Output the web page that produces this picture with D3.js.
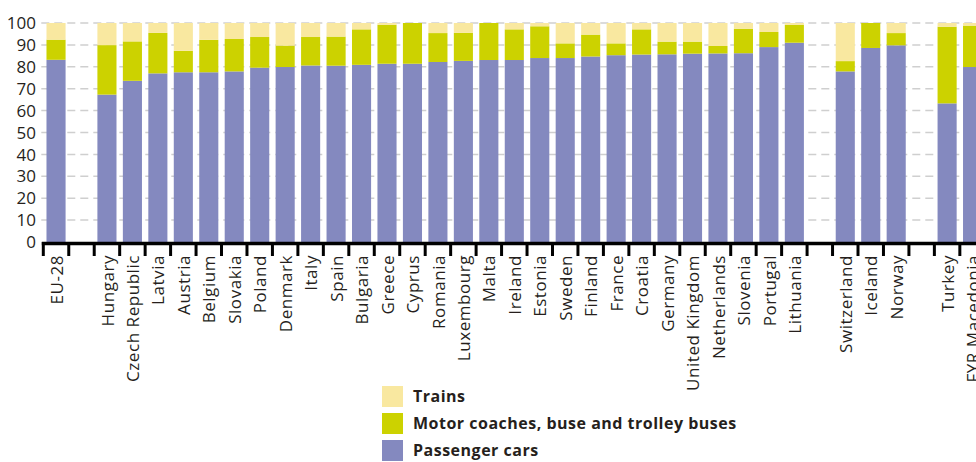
<!DOCTYPE html>
<html>
<head>
<meta charset="utf-8">
<script src="https://cdn.jsdelivr.net/npm/d3@7"></script>
<style>
  html, body { margin: 0; padding: 0; background: #fff; overflow: hidden; }
  svg { display: block; }
  text { font-family: "Open Sans", "Noto Sans", sans-serif; fill: #261f1c; }
</style>
</head>
<body>
<svg id="chart" width="976" height="462"></svg>
<script>
// ---- data ----
const categories = ["EU-28", "", "Hungary", "Czech Republic", "Latvia", "Austria", "Belgium", "Slovakia",
  "Poland", "Denmark", "Italy", "Spain", "Bulgaria", "Greece", "Cyprus", "Romania", "Luxembourg",
  "Malta", "Ireland", "Estonia", "Sweden", "Finland", "France", "Croatia", "Germany",
  "United Kingdom", "Netherlands", "Slovenia", "Portugal", "Lithuania", "", "Switzerland",
  "Iceland", "Norway", "", "Turkey", "FYR Macedonia"];
const passengerCars = [83.2, null, 67.3, 73.6, 77.0, 77.5, 77.5, 77.9, 79.6, 79.9, 80.6, 80.5, 80.9, 81.4,
  81.4, 82.2, 82.7, 83.1, 83.1, 84.0, 84.0, 84.7, 85.3, 85.6, 85.7, 86.0, 86.1, 86.2, 89.0, 91.0,
  null, 77.9, 88.6, 89.8, null, 63.3, 79.9];
const busesCoaches = [9.2, null, 22.6, 18.0, 18.5, 9.8, 14.8, 14.8, 14.0, 9.8, 13.0, 13.3, 16.2, 17.8,
  18.6, 13.2, 12.8, 16.9, 14.0, 14.5, 6.7, 10.0, 5.4, 11.5, 5.8, 5.5, 3.4, 11.2, 6.9, 8.2,
  null, 4.7, 11.4, 5.6, null, 35.0, 18.9];
const trains = [7.6, null, 10.1, 8.4, 4.5, 12.7, 7.7, 7.3, 6.4, 10.3, 6.4, 6.2, 2.9, 0.8,
  0.0, 4.6, 4.5, 0.0, 2.9, 1.5, 9.3, 5.3, 9.3, 2.9, 8.5, 8.5, 10.5, 2.6, 4.1, 0.8,
  null, 17.4, 0.0, 4.6, null, 1.7, 1.2];
const yTicks = [0, 10, 20, 30, 40, 50, 60, 70, 80, 90, 100];
const seriesNames = ["Trains", "Motor coaches, buse and trolley buses", "Passenger cars"];
const seriesColors = ["#f9e8a0", "#ccd200", "#8489bf"];

// ---- build ----
const keys = categories.map((c, i) => "k" + i);
const rows = keys.map((k, i) => ({
  key: k, label: categories[i],
  cars: passengerCars[i] || 0, bus: busesCoaches[i] || 0, trains: trains[i] || 0
}));

const svg = d3.select("#chart");
const mLeft = 43.3, mRight = 985.3, mTop = 23, mBottom = 242;
const pi = 0.25;

const x = d3.scaleBand().domain(keys).range([mLeft, mRight]).paddingInner(pi).paddingOuter(pi / 2);
const y = d3.scaleLinear().domain([0, 100]).range([mBottom, mTop]);
const step = x.step();

// gridlines
svg.append("g").selectAll("line").data(yTicks.filter(d => d > 0)).join("line")
  .attr("x1", mLeft - 2).attr("x2", 976)
  .attr("y1", d => y(d)).attr("y2", d => y(d))
  .attr("stroke", "#cfcfcf").attr("stroke-width", 1.5)
  .attr("stroke-dasharray", "8,5");

// y labels
svg.append("g").selectAll("text").data(yTicks).join("text")
  .attr("x", 36).attr("y", d => y(d)).attr("dy", "0.36em")
  .attr("text-anchor", "end").attr("font-size", 17)
  .text(d => d);

// stacked bars
const stack = d3.stack().keys(["cars", "bus", "trains"]);
const stacked = stack(rows.filter(r => r.label !== ""));
const colorFor = { cars: seriesColors[2], bus: seriesColors[1], trains: seriesColors[0] };
svg.append("g").selectAll("g").data(stacked).join("g")
  .attr("fill", s => colorFor[s.key])
  .selectAll("rect").data(s => s).join("rect")
  .attr("x", d => x(d.data.key))
  .attr("width", x.bandwidth())
  .attr("y", d => y(d[1]))
  .attr("height", d => Math.max(0, y(d[0]) - y(d[1])));

// x axis line and ticks
const bounds = keys.map(k => x(k) - step * pi / 2).concat([x(keys[keys.length - 1]) + x.bandwidth() + step * pi / 2]);
svg.append("line").attr("x1", mLeft - 1.5).attr("x2", 976)
  .attr("y1", mBottom + 1.5).attr("y2", mBottom + 1.5)
  .attr("stroke", "#000").attr("stroke-width", 3.5);
svg.append("g").selectAll("line").data(bounds).join("line")
  .attr("x1", d => d).attr("x2", d => d)
  .attr("y1", mBottom).attr("y2", mBottom + 14)
  .attr("stroke", "#000").attr("stroke-width", 3);

// x labels
svg.append("g").selectAll("text").data(rows.filter(r => r.label !== "")).join("text")
  .attr("transform", d => `translate(${x(d.key) + x.bandwidth() / 2 + 0.5},255) rotate(-90)`)
  .attr("dy", "0.36em").attr("text-anchor", "end").attr("font-size", 17)
  .attr("letter-spacing", 0.55)
  .text(d => d.label);

// legend
const lg = svg.append("g").attr("transform", "translate(382,386)");
const items = lg.selectAll("g").data(seriesNames).join("g")
  .attr("transform", (d, i) => `translate(0,${i * 27})`);
items.append("rect").attr("width", 21).attr("height", 21).attr("fill", (d, i) => seriesColors[i]);
items.append("text").attr("x", 31).attr("y", 10.5).attr("dy", "0.36em")
  .attr("font-size", 16).attr("font-weight", "bold").attr("letter-spacing", 0.5).text(d => d);
</script>
</body>
</html>
